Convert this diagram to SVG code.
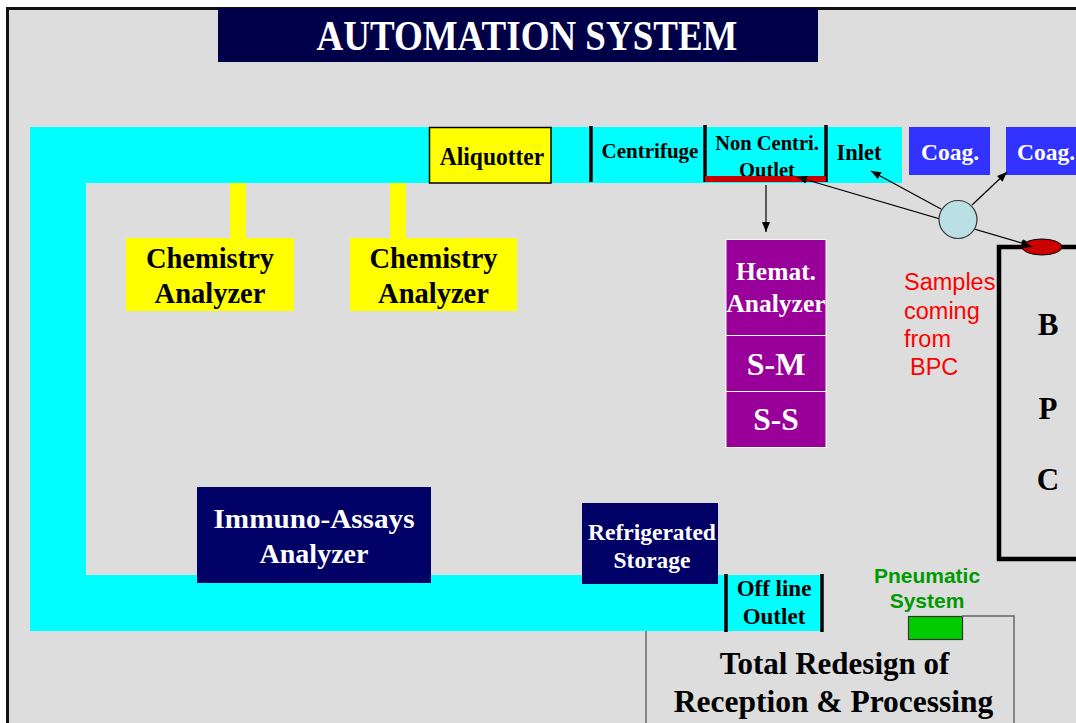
<svg xmlns="http://www.w3.org/2000/svg" width="1076" height="723" viewBox="0 0 1076 723">
  <defs>
    <marker id="arrow" viewBox="0 0 10 8" refX="10" refY="4" markerWidth="10" markerHeight="8" markerUnits="userSpaceOnUse" orient="auto">
      <path d="M0,0 L10,4 L0,8 Z" fill="#000"/>
    </marker>
    <marker id="arrowStart" viewBox="0 0 10 8" refX="0" refY="4" markerWidth="10" markerHeight="8" markerUnits="userSpaceOnUse" orient="auto">
      <path d="M10,0 L0,4 L10,8 Z" fill="#000"/>
    </marker>
  </defs>
  <style>
    .serif { font-family: "Liberation Serif", "Times New Roman", serif; font-weight: bold; text-anchor: middle; }
    .sans { font-family: "Liberation Sans", Arial, sans-serif; }
    .white { fill: #fff; }
    .black { fill: #000; }
    .track { fill: #00FFFF; }
    .bar { stroke: #000; stroke-width: 3.5; }
    .conn { stroke: #000; stroke-width: 1.2; fill: none; }
  </style>

  <!-- page -->
  <rect x="0" y="0" width="1076" height="723" fill="#fff"/>
  <rect x="7" y="8" width="1075" height="720" fill="#DDDDDD"/>
  <path d="M7.5,723 V8.5 H1076" fill="none" stroke="#111" stroke-width="3"/>

  <!-- title -->
  <g id="title">
    <rect x="218" y="8" width="600" height="54" fill="#000048"/>
    <text class="serif white" font-size="37" transform="translate(527,50) scale(1,1.12)">AUTOMATION SYSTEM</text>
  </g>

  <!-- conveyor loop -->
  <g id="track">
    <rect class="track" x="30" y="127" width="872" height="56"/>
    <rect class="track" x="30" y="127" width="56" height="504"/>
    <rect class="track" x="30" y="575" width="792" height="56"/>
  </g>

  <!-- stations on the track -->
  <g id="aliquotter">
    <rect x="429.5" y="127.5" width="121.5" height="55.5" fill="#FFFF00" stroke="#000" stroke-width="1.5"/>
    <text class="serif black" font-size="23.5" transform="translate(492,164.5) scale(1,1.1)">Aliquotter</text>
  </g>

  <g id="centrifuge">
    <line class="bar" x1="591" y1="126" x2="591" y2="182"/>
    <text class="serif black" font-size="21" x="650" y="158">Centrifuge</text>
  </g>

  <g id="non-centri-outlet">
    <line class="bar" x1="705" y1="125" x2="705" y2="182"/>
    <line class="bar" x1="826" y1="125" x2="826" y2="182"/>
    <text class="serif black" font-size="20.5" x="767" y="150">Non Centri.</text>
    <text class="serif black" font-size="20.5" x="767" y="177">Outlet</text>
    <rect x="705" y="176" width="121" height="6" fill="#CC0000"/>
  </g>

  <g id="inlet">
    <text class="serif black" font-size="22.5" x="859" y="160">Inlet</text>
  </g>

  <g id="coag-1">
    <rect x="909" y="127" width="81" height="48" fill="#3333FF"/>
    <text class="serif white" font-size="23.5" x="950" y="160">Coag.</text>
  </g>

  <g id="coag-2">
    <rect x="1006" y="127" width="80" height="48" fill="#3333FF"/>
    <text class="serif white" font-size="23.5" x="1017" y="160" text-anchor="start" style="text-anchor:start">Coag.</text>
  </g>

  <g id="chemistry-1">
    <rect x="230" y="183" width="16" height="56" fill="#FFFF00"/>
    <rect x="126" y="238" width="168" height="73" fill="#FFFF00"/>
    <text class="serif black" font-size="28.5" x="210" y="268">Chemistry</text>
    <text class="serif black" font-size="28.5" x="210" y="303">Analyzer</text>
  </g>

  <g id="chemistry-2">
    <rect x="390" y="183" width="16" height="56" fill="#FFFF00"/>
    <rect x="350" y="238" width="167" height="73" fill="#FFFF00"/>
    <text class="serif black" font-size="28.5" x="433.5" y="268">Chemistry</text>
    <text class="serif black" font-size="28.5" x="433.5" y="303">Analyzer</text>
  </g>

  <g id="hematology">
    <rect x="726" y="239.5" width="100" height="96" fill="#990099" stroke="#fff" stroke-width="1"/>
    <rect x="726" y="335.5" width="100" height="56" fill="#990099" stroke="#fff" stroke-width="1"/>
    <rect x="726" y="391.5" width="100" height="56" fill="#990099" stroke="#fff" stroke-width="1"/>
    <text class="serif white" font-size="25.5" x="776" y="280">Hemat.</text>
    <text class="serif white" font-size="25.5" x="776" y="312">Analyzer</text>
    <text class="serif white" font-size="32" x="776" y="375">S-M</text>
    <text class="serif white" font-size="31.5" x="776" y="430">S-S</text>
  </g>

  <g id="immuno-assays">
    <rect x="197" y="487" width="234" height="96" fill="#000066"/>
    <text class="serif white" font-size="28" x="314" y="528" textLength="201" lengthAdjust="spacingAndGlyphs">Immuno-Assays</text>
    <text class="serif white" font-size="28" x="314" y="563">Analyzer</text>
  </g>

  <g id="refrigerated-storage">
    <rect x="582" y="503" width="136" height="81" fill="#000066"/>
    <text class="serif white" font-size="23.5" x="652" y="539.5">Refrigerated</text>
    <text class="serif white" font-size="23.5" x="652" y="568">Storage</text>
  </g>

  <g id="offline-outlet">
    <line class="bar" x1="726" y1="574" x2="726" y2="632"/>
    <line class="bar" x1="822" y1="574" x2="822" y2="632"/>
    <text class="serif black" font-size="23" x="774" y="596">Off line</text>
    <text class="serif black" font-size="23" x="774" y="624">Outlet</text>
  </g>

  <g id="bpc">
    <path d="M1076,247 H999 V559 H1076" fill="none" stroke="#000" stroke-width="4.5"/>
    <text class="serif black" font-size="31" x="1048" y="335">B</text>
    <text class="serif black" font-size="31" x="1048" y="419">P</text>
    <text class="serif black" font-size="31" x="1048" y="490">C</text>
  </g>

  <g id="samples-note" class="sans" fill="#FF0000" font-size="23.5">
    <text x="904" y="290">Samples</text>
    <text x="904" y="319">coming</text>
    <text x="904" y="347">from</text>
    <text x="910" y="375">BPC</text>
  </g>

  <g id="pneumatic">
    <text class="sans" fill="#009900" font-weight="bold" font-size="21" x="927" y="583" text-anchor="middle">Pneumatic</text>
    <text class="sans" fill="#009900" font-weight="bold" font-size="21" x="927" y="608" text-anchor="middle">System</text>
    <rect x="908.5" y="616.5" width="54" height="23" fill="#00CC00" stroke="#333" stroke-width="1.2"/>
  </g>

  <g id="redesign">
    <path d="M646,631 V723" fill="none" stroke="#666" stroke-width="1.5"/>
    <path d="M962,616 H1014 V723" fill="none" stroke="#666" stroke-width="1.5"/>
    <text class="serif black" font-size="31" x="834.5" y="674">Total Redesign of</text>
    <text class="serif black" font-size="31.5" x="833.5" y="712">Reception &amp; Processing</text>
  </g>

  <!-- connectors -->
  <g id="connectors">
    <line class="conn" x1="766" y1="185" x2="766" y2="232" marker-end="url(#arrow)"/>
    <line class="conn" x1="797" y1="177" x2="1032" y2="246" marker-start="url(#arrowStart)" marker-end="url(#arrow)"/>
    <line class="conn" x1="941" y1="209" x2="871" y2="171" marker-end="url(#arrow)"/>
    <line class="conn" x1="972" y1="205" x2="1007" y2="172" marker-end="url(#arrow)"/>
  </g>

  <g id="sorter">
    <circle cx="958" cy="219.5" r="19" fill="#BBE0E3" stroke="#333" stroke-width="1.2"/>
  </g>

  <g id="bpc-port">
    <ellipse cx="1042" cy="247" rx="20" ry="8" fill="#CC0000" stroke="#000" stroke-width="1"/>
    <path d="M1022,240 L1033,247 L1021,248 Z" fill="#000"/>
  </g>
</svg>
